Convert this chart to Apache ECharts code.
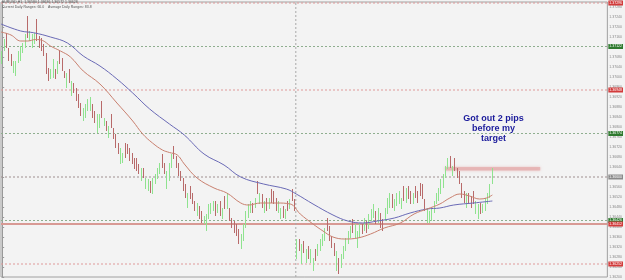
<!DOCTYPE html>
<html><head><meta charset="utf-8">
<script src="https://cdn.jsdelivr.net/npm/echarts@6/dist/echarts.min.js"></script>
<style>html,body{margin:0;padding:0;background:#f3f3f3}#c{width:625px;height:280px}</style>
</head><body><div id="c"></div>
<script>
const slotCount = 261;
const opens = [1.37060,1.37112,1.37168,1.37108,1.37084,1.37024,1.37012,1.37064,1.37072,1.37102,
1.37124,1.37236,1.37150,1.37124,1.37138,1.37224,1.37156,1.37148,1.37124,1.37088,
1.37028,1.36998,1.37004,1.37026,1.37020,1.37096,1.37068,1.37020,1.36964,1.37024,
1.36932,1.36970,1.36948,1.36924,1.36888,1.36832,1.36844,1.36870,1.36870,1.36884,
1.36856,1.36784,1.36804,1.36896,1.36810,1.36818,1.36764,1.36844,1.36788,1.36764,
1.36728,1.36660,1.36662,1.36728,1.36724,1.36708,1.36688,1.36668,1.36668,1.36644,
1.36592,1.36628,1.36560,1.36552,1.36576,1.36540,1.36578,1.36598,1.36618,1.36684,
1.36648,1.36560,1.36592,1.36644,1.36716,1.36676,1.36648,1.36616,1.36588,1.36564,
1.36484,1.36556,1.36528,1.36496,1.36452,1.36476,1.36456,1.36418,1.36392,1.36440,
1.36458,1.36470,1.36496,1.36462,1.36496,1.36438,1.36516,1.36480,1.36468,1.36428,
1.36416,1.36404,1.36384,1.36320,1.36352,1.36404,1.36444,1.36462,1.36488,1.36482,
1.36576,1.36498,1.36524,1.36462,1.36508,1.36478,1.36544,1.36536,1.36508,1.36462,
1.36438,1.36476,1.36438,1.36496,1.36478,1.36544,1.36504,1.36280,1.36344,1.36260,
1.36336,1.36264,1.36316,1.36264,1.36232,1.36304,1.36292,1.36312,1.36332,1.36352,
1.36428,1.36396,1.36356,1.36328,1.36232,1.36268,1.36244,1.36280,1.36312,1.36340,
1.36362,1.36424,1.36362,1.36324,1.36364,1.36404,1.36390,1.36416,1.36400,1.36430,
1.36444,1.36456,1.36424,1.36448,1.36424,1.36430,1.36460,1.36484,1.36524,1.36470,
1.36492,1.36500,1.36478,1.36556,1.36504,1.36556,1.36536,1.36498,1.36556,1.36536,
1.36568,1.36564,1.36504,1.36424,1.36422,1.36430,1.36462,1.36498,1.36512,1.36540,
1.36564,1.36604,1.36640,1.36676,1.36610,1.36668,1.36628,1.36616,1.36568,1.36536,
1.36484,1.36528,1.36516,1.36536,1.36460,1.36440,1.36488,1.36462,1.36470,1.36498,
1.36524,1.36580];
const highs = [1.37104,1.37152,1.37176,1.37116,1.37092,1.37064,1.37064,1.37104,1.37124,1.37136,
1.37172,1.37244,1.37184,1.37172,1.37176,1.37232,1.37164,1.37156,1.37132,1.37096,
1.37036,1.37032,1.37072,1.37032,1.37064,1.37104,1.37076,1.37024,1.37016,1.37032,
1.36984,1.36976,1.36956,1.36932,1.36896,1.36876,1.36892,1.36912,1.36920,1.36892,
1.36864,1.36852,1.36852,1.36904,1.36836,1.36824,1.36804,1.36852,1.36796,1.36772,
1.36736,1.36716,1.36696,1.36736,1.36732,1.36716,1.36696,1.36676,1.36676,1.36652,
1.36636,1.36636,1.36596,1.36592,1.36584,1.36596,1.36612,1.36636,1.36656,1.36692,
1.36656,1.36624,1.36656,1.36692,1.36724,1.36684,1.36656,1.36624,1.36596,1.36572,
1.36536,1.36564,1.36536,1.36504,1.36496,1.36484,1.36464,1.36444,1.36452,1.36492,
1.36496,1.36504,1.36504,1.36492,1.36504,1.36476,1.36524,1.36536,1.36476,1.36436,
1.36424,1.36412,1.36392,1.36372,1.36412,1.36464,1.36492,1.36504,1.36496,1.36516,
1.36584,1.36536,1.36532,1.36504,1.36516,1.36516,1.36552,1.36544,1.36516,1.36504,
1.36476,1.36484,1.36472,1.36504,1.36512,1.36552,1.36512,1.36352,1.36352,1.36332,
1.36344,1.36312,1.36324,1.36312,1.36276,1.36312,1.36332,1.36352,1.36372,1.36396,
1.36436,1.36404,1.36364,1.36336,1.36304,1.36276,1.36292,1.36324,1.36356,1.36384,
1.36404,1.36432,1.36412,1.36384,1.36416,1.36412,1.36436,1.36424,1.36452,1.36472,
1.36492,1.36464,1.36476,1.36456,1.36432,1.36476,1.36516,1.36536,1.36532,1.36512,
1.36536,1.36544,1.36516,1.36564,1.36556,1.36564,1.36544,1.36536,1.36564,1.36544,
1.36576,1.36572,1.36512,1.36476,1.36464,1.36472,1.36504,1.36536,1.36556,1.36592,
1.36612,1.36644,1.36676,1.36684,1.36644,1.36676,1.36636,1.36624,1.36576,1.36544,
1.36536,1.36536,1.36524,1.36544,1.36504,1.36492,1.36496,1.36492,1.36516,1.36536,
1.36572,1.36636];
const lows = [1.37052,1.37104,1.37116,1.37064,1.37044,1.37016,1.37004,1.37056,1.37064,1.37096,
1.37116,1.37156,1.37144,1.37116,1.37132,1.37144,1.37116,1.37104,1.37084,1.37012,
1.36984,1.36992,1.36996,1.36992,1.37012,1.37052,1.37024,1.36996,1.36956,1.36976,
1.36924,1.36936,1.36904,1.36876,1.36844,1.36824,1.36836,1.36864,1.36864,1.36836,
1.36816,1.36776,1.36796,1.36836,1.36804,1.36784,1.36756,1.36796,1.36752,1.36716,
1.36692,1.36652,1.36656,1.36676,1.36692,1.36664,1.36652,1.36632,1.36624,1.36612,
1.36584,1.36596,1.36552,1.36544,1.36536,1.36532,1.36572,1.36592,1.36612,1.36636,
1.36612,1.36552,1.36584,1.36636,1.36672,1.36636,1.36604,1.36584,1.36544,1.36516,
1.36476,1.36512,1.36492,1.36464,1.36444,1.36432,1.36416,1.36412,1.36384,1.36432,
1.36452,1.36464,1.36444,1.36456,1.36444,1.36432,1.36472,1.36472,1.36424,1.36396,
1.36376,1.36364,1.36332,1.36312,1.36344,1.36396,1.36436,1.36456,1.36456,1.36476,
1.36532,1.36492,1.36476,1.36456,1.36464,1.36472,1.36496,1.36492,1.36464,1.36456,
1.36432,1.36436,1.36432,1.36464,1.36472,1.36504,1.36464,1.36272,1.36304,1.36252,
1.36296,1.36256,1.36272,1.36256,1.36224,1.36264,1.36284,1.36304,1.36324,1.36344,
1.36384,1.36344,1.36316,1.36284,1.36224,1.36212,1.36236,1.36272,1.36304,1.36332,
1.36356,1.36376,1.36356,1.36316,1.36356,1.36372,1.36384,1.36376,1.36392,1.36424,
1.36436,1.36412,1.36416,1.36396,1.36384,1.36424,1.36452,1.36476,1.36476,1.36464,
1.36484,1.36492,1.36472,1.36504,1.36496,1.36512,1.36492,1.36492,1.36516,1.36496,
1.36524,1.36512,1.36464,1.36416,1.36416,1.36424,1.36456,1.36492,1.36504,1.36532,
1.36556,1.36596,1.36632,1.36636,1.36604,1.36624,1.36596,1.36572,1.36516,1.36496,
1.36476,1.36492,1.36476,1.36492,1.36452,1.36432,1.36452,1.36456,1.36464,1.36492,
1.36516,1.36572];
const closes = [1.37096,1.37144,1.37124,1.37072,1.37052,1.37056,1.37056,1.37096,1.37116,1.37130,
1.37164,1.37164,1.37178,1.37164,1.37170,1.37152,1.37124,1.37112,1.37092,1.37020,
1.36992,1.37026,1.37064,1.36998,1.37056,1.37060,1.37032,1.37000,1.37008,1.36984,
1.36976,1.36942,1.36912,1.36884,1.36852,1.36868,1.36884,1.36906,1.36912,1.36844,
1.36824,1.36844,1.36844,1.36844,1.36830,1.36790,1.36796,1.36804,1.36760,1.36724,
1.36700,1.36708,1.36690,1.36684,1.36700,1.36672,1.36660,1.36640,1.36632,1.36620,
1.36628,1.36602,1.36588,1.36584,1.36544,1.36588,1.36604,1.36628,1.36648,1.36644,
1.36620,1.36616,1.36648,1.36684,1.36680,1.36644,1.36612,1.36592,1.36552,1.36524,
1.36528,1.36520,1.36500,1.36472,1.36488,1.36440,1.36424,1.36438,1.36444,1.36484,
1.36490,1.36498,1.36452,1.36486,1.36452,1.36470,1.36480,1.36528,1.36432,1.36404,
1.36384,1.36372,1.36340,1.36364,1.36404,1.36456,1.36484,1.36496,1.36462,1.36510,
1.36540,1.36530,1.36484,1.36496,1.36472,1.36510,1.36504,1.36500,1.36472,1.36496,
1.36470,1.36444,1.36466,1.36472,1.36506,1.36512,1.36472,1.36344,1.36312,1.36324,
1.36304,1.36304,1.36280,1.36304,1.36268,1.36272,1.36324,1.36344,1.36364,1.36388,
1.36392,1.36352,1.36324,1.36292,1.36296,1.36220,1.36284,1.36316,1.36348,1.36376,
1.36396,1.36384,1.36404,1.36376,1.36408,1.36380,1.36428,1.36384,1.36444,1.36466,
1.36484,1.36420,1.36468,1.36404,1.36392,1.36468,1.36508,1.36528,1.36484,1.36504,
1.36528,1.36536,1.36508,1.36512,1.36548,1.36520,1.36500,1.36528,1.36524,1.36504,
1.36532,1.36520,1.36472,1.36468,1.36456,1.36464,1.36496,1.36528,1.36548,1.36584,
1.36604,1.36636,1.36668,1.36644,1.36638,1.36632,1.36604,1.36580,1.36524,1.36504,
1.36528,1.36500,1.36484,1.36500,1.36496,1.36484,1.36460,1.36486,1.36508,1.36528,
1.36564,1.36628];
const blueIdx = [-0.5,8.0,13.6,20.8,28.1,34.9,42.1,49.4,56.2,63.5,72.0,78.4,86.9,95.5,102.7,112.5,122.3,126.6,133.8,142.4,148.8,155.2,161.5,168.8,175.6,182.9,188.4,194.4,202.9,211.0];
const blueVal = [1.37212,1.37184,1.37177,1.37160,1.37136,1.37084,1.37044,1.36992,1.36936,1.36872,1.36812,1.36768,1.36692,1.36648,1.36600,1.36572,1.36552,1.36532,1.36492,1.36448,1.36424,1.36416,1.36424,1.36436,1.36456,1.36472,1.36476,1.36488,1.36496,1.36504];
const redIdx = [-0.5,3.8,8.0,11.0,14.4,17.4,20.8,25.1,29.4,34.9,42.1,49.4,56.2,60.5,64.7,69.0,72.0,75.4,78.4,83.9,91.2,96.7,102.7,106.1,111.2,118.0,124.0,128.3,133.8,138.1,142.4,147.5,153.0,158.6,164.5,171.4,177.3,182.9,188.4,192.7,197.0,201.2,205.5,208.5,211.0];
const redVal = [1.37180,1.37168,1.37144,1.37144,1.37150,1.37146,1.37124,1.37104,1.37080,1.37024,1.36972,1.36896,1.36824,1.36772,1.36736,1.36708,1.36698,1.36688,1.36652,1.36596,1.36556,1.36536,1.36496,1.36488,1.36496,1.36496,1.36492,1.36452,1.36412,1.36384,1.36360,1.36352,1.36356,1.36372,1.36396,1.36416,1.36452,1.36472,1.36492,1.36516,1.36532,1.36524,1.36512,1.36516,1.36528];
const levelValues = [1.37296,1.37122,1.36948,1.36774,1.36600,1.36426,1.36412,1.36252];
const levelKinds = ['r','g','r','g','k','g','s','r'];
const separatorIdx = 126.4;
const bandRange = [[190.6, 1.36640],[231.6, 1.36626]];
const noteAt = [211.5, 1.36792];
const noteText = 'Got out 2 pips\nbefore my\ntarget';
const headerLine1 = 'EURUSD,H1  1.36580 1.36636 1.36572 1.36628';
const headerLine2 = 'Current Daily Ranges: 66.0    Average Daily Ranges: 83.8';

const yMin = 1.3620, yMax = 1.3730;
const slots = Array.from({length: slotCount}, (_, i) => String(i));
const ohlc = opens.map((o, i) => [o, closes[i], lows[i], highs[i]]);
const bluePts = blueIdx.map((x, i) => [x, blueVal[i]]);
const redPts = redIdx.map((x, i) => [x, redVal[i]]);

const kindStyle = {
  r: {line: '#e09a9a', box: '#d23b3b', type: [2, 2], w: 1},
  g: {line: '#8fae8f', box: '#2f7a2f', type: [2, 2], w: 1},
  k: {line: '#a09090', box: '#8a8a8a', type: [2, 2], w: 1},
  s: {line: '#d89a94', box: '#d23b3b', type: 'solid', w: 2}
};
const levelSeries = levelValues.map((v, i) => {
  const s = kindStyle[levelKinds[i]];
  return {
    type: 'line', xAxisIndex: 1, silent: true, showSymbol: false, z: 1,
    data: [[-0.5, v], [slotCount - 0.5, v]],
    lineStyle: {color: s.line, type: s.type, width: s.w},
    endLabel: {show: true, distance: 1, formatter: v.toFixed(5),
      color: '#fff', backgroundColor: s.box, fontSize: 3.5, padding: [1, 1, 0, 1],
      fontFamily: 'Liberation Sans'}
  };
});

const chart = echarts.init(document.getElementById('c'), null, {renderer: 'canvas'});
chart.setOption({
  backgroundColor: '#f3f3f3',
  animation: false,
  title: {
    text: headerLine1, subtext: headerLine2, left: 2, top: 0, itemGap: 1, padding: 0,
    textStyle: {fontSize: 3.5, fontWeight: 'normal', color: '#555', fontFamily: 'Liberation Sans'},
    subtextStyle: {fontSize: 3.5, color: '#555', fontFamily: 'Liberation Sans'}
  },
  grid: {left: 1, right: 13, top: 1, bottom: 3, show: true, borderColor: '#a0a0a0', borderWidth: 1, backgroundColor: 'transparent'},
  xAxis: [
    {type: 'category', data: slots, boundaryGap: true, show: false},
    {type: 'value', min: -0.5, max: slotCount - 0.5, show: false}
  ],
  yAxis: {
    type: 'value', position: 'right', min: yMin, max: yMax, interval: 0.0004,
    axisLine: {show: true, lineStyle: {color: '#999'}},
    axisTick: {show: true, length: 2, lineStyle: {color: '#999'}},
    splitLine: {show: false},
    axisLabel: {fontSize: 3.5, color: '#888', margin: 2, formatter: v => v.toFixed(5), fontFamily: 'Liberation Sans'}
  },
  series: levelSeries.concat([
    {
      type: 'line', xAxisIndex: 1, silent: true, showSymbol: false, z: 1,
      data: [[separatorIdx, yMin], [separatorIdx, yMax]],
      lineStyle: {color: '#a8a8a8', type: [2, 2], width: 1}
    },
    {
      type: 'line', xAxisIndex: 1, data: [], silent: true,
      markArea: {silent: true, itemStyle: {color: 'rgba(228,170,170,0.7)', shadowBlur: 3, shadowColor: 'rgba(228,170,170,0.9)'},
        data: [[{xAxis: bandRange[0][0], yAxis: bandRange[0][1]}, {xAxis: bandRange[1][0], yAxis: bandRange[1][1]}]]}
    },
    {
      type: 'candlestick', xAxisIndex: 0, data: ohlc, barWidth: 0.6, silent: true, z: 3,
      itemStyle: {color: '#8fe38f', color0: '#b86a6a', borderColor: '#8fe38f', borderColor0: '#b86a6a', borderWidth: 1}
    },
    {
      type: 'line', xAxisIndex: 1, data: bluePts, smooth: 0.4, showSymbol: false, silent: true, z: 4,
      lineStyle: {color: '#6a6ab6', width: 1}
    },
    {
      type: 'line', xAxisIndex: 1, data: redPts, smooth: 0.4, showSymbol: false, silent: true, z: 4,
      lineStyle: {color: '#c9806f', width: 1},
      markPoint: {symbol: 'circle', symbolSize: 0, silent: true,
        label: {show: true, position: 'inside', formatter: noteText, color: '#1c1c9c', fontSize: 9,
          fontWeight: 'bold', lineHeight: 10, align: 'center', fontFamily: 'Liberation Sans'},
        data: [{coord: noteAt}]}
    }
  ])
});
</script>
</body></html>
